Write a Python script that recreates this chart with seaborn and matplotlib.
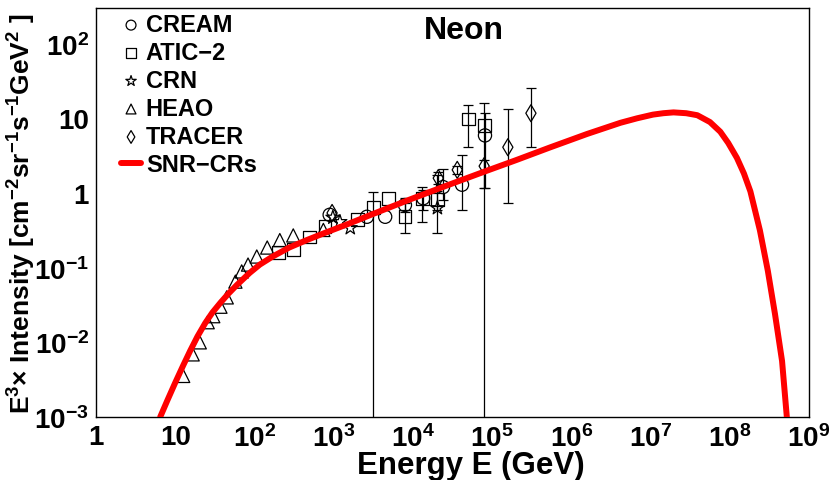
import matplotlib
matplotlib.use('Agg')
import matplotlib.pyplot as plt
from matplotlib.ticker import FixedLocator, LogLocator, NullFormatter
import numpy as np
import seaborn as sns

# SNR-CRs model curve (E in GeV, E^3 x intensity)
snr_energy = [6.46, 7.94, 10, 12.6, 15.5, 19.1, 24.0, 29.5, 37.2, 46.8,
              60.3, 87.1, 117, 170, 275, 457, 794, 1480, 3160, 8510,
              26900, 77600, 2.0e5, 5.37e5, 1.58e6, 4.17e6, 6.76e6, 1.07e7, 1.45e7, 1.95e7,
              2.82e7, 3.89e7, 5.62e7, 7.59e7, 9.55e7, 1.23e8, 1.51e8, 1.82e8, 2.40e8, 3.02e8,
              3.72e8, 4.57e8, 5.25e8]
snr_flux = [1.0e-3, 1.66e-3, 2.88e-3, 4.9e-3, 7.76e-3, 0.0120, 0.0182, 0.0251, 0.0339, 0.0447,
            0.0589, 0.0851, 0.110, 0.141, 0.186, 0.234, 0.295, 0.380, 0.525, 0.794,
            1.26, 1.91, 2.75, 4.07, 6.17, 8.71, 10.0, 11.2, 11.7, 12.0,
            11.7, 11.0, 8.91, 6.61, 4.68, 2.95, 1.82, 1.05, 0.316, 0.0912,
            0.024, 0.00562, 1e-3]

# measurements: energy, value, lower and upper end of error bar
cream_energy = [890, 2630, 4470, 7940, 13500, 24000, 41700, 81300]
cream_flux = [0.51, 0.48, 0.48, 0.69, 0.85, 1.2, 1.29, 5.9]
cream_lo = [0.51, 0.48, 0.48, 0.55, 0.6, 0.8, 0.59, 1.17]
cream_hi = [0.51, 0.48, 0.48, 0.85, 1.1, 2.1, 3.2, 11.7]

atic_energy = [200, 309, 501, 776, 2000, 3160, 4900, 7940, 13200, 20400, 50100, 79400]
atic_flux = [0.158, 0.174, 0.257, 0.355, 0.437, 0.646, 0.85, 0.48, 0.85, 0.82, 9.8, 8.1]
atic_lo = [0.158, 0.174, 0.257, 0.355, 0.437, 1e-4, 0.85, 0.293, 0.41, 0.6, 4.1, 1e-4]
atic_hi = [0.158, 0.174, 0.257, 0.355, 0.437, 1.03, 0.85, 0.736, 1.2, 1.05, 14.9, 15.8]

crn_energy = [977, 1200, 1620, 20400]
crn_flux = [0.47, 0.41, 0.34, 0.63]
crn_lo = [0.47, 0.41, 0.34, 0.29]
crn_hi = [0.47, 0.41, 0.34, 1.74]

heao_energy = [12.6, 16.6, 20.4, 25.7, 30.2, 37.2, 44.7, 57.5, 69, 83, 107, 145, 209, 309, 741]
heao_flux = [3.55e-3, 6.9e-3, 0.010, 0.0186, 0.0224, 0.030, 0.040, 0.065, 0.089, 0.11,
             0.141, 0.186, 0.234, 0.27, 0.32]

tracer_energy = [955, 20900, 36300, 79400, 158000, 309000]
tracer_flux = [0.54, 1.58, 2.04, 2.29, 4.1, 11.7]
tracer_lo = [0.54, 1.3, 1.8, 1.17, 0.74, 4.1]
tracer_hi = [0.54, 1.9, 2.3, 2.75, 13.2, 25.7]

x_ticks = [1, 10, 1e2, 1e3, 1e4, 1e5, 1e6, 1e7, 1e8, 1e9]
x_ticklabels = ['1', '10', '$10^{2}$', '$10^{3}$', '$10^{4}$', '$10^{5}$',
                '$10^{6}$', '$10^{7}$', '$10^{8}$', '$10^{9}$']
y_ticks = [1e-3, 1e-2, 1e-1, 1, 10, 1e2]
y_ticklabels = ['$10^{-3}$', '$10^{-2}$', '$10^{-1}$', '1', '10', '$10^{2}$']

sns.set_theme(style='white')
plt.rcParams['font.family'] = ['Liberation Sans', 'DejaVu Sans']
plt.rcParams['font.weight'] = 'bold'
plt.rcParams['mathtext.fontset'] = 'custom'
plt.rcParams['mathtext.rm'] = 'Liberation Sans:bold'
plt.rcParams['mathtext.bf'] = 'Liberation Sans:bold'
plt.rcParams['mathtext.it'] = 'Liberation Sans:bold'
plt.rcParams['mathtext.default'] = 'rm'
for key in ('text.color', 'axes.labelcolor', 'xtick.color', 'ytick.color', 'axes.edgecolor'):
    plt.rcParams[key] = 'black'

fig = plt.figure(figsize=(8.32, 4.81), dpi=100)
ax = fig.add_axes([96 / 832, 63 / 481, 713 / 832, 409 / 481])
ax.set_xscale('log')
ax.set_yscale('log')

# Error bars first, only where they are visible.
datasets = [(cream_energy, cream_flux, cream_lo, cream_hi),
            (atic_energy, atic_flux, atic_lo, atic_hi),
            (crn_energy, crn_flux, crn_lo, crn_hi),
            (tracer_energy, tracer_flux, tracer_lo, tracer_hi)]
for e, f, lo, hi in datasets:
    e, f, lo, hi = map(np.asarray, (e, f, lo, hi))
    m = (hi > f) | (lo < f)
    ax.errorbar(e[m], f[m], yerr=[f[m] - lo[m], hi[m] - f[m]], fmt='none',
                ecolor='black', elinewidth=0.9, capsize=3.5, capthick=0.9, zorder=2)

marker_kw = dict(facecolor='none', edgecolor='black', linewidth=0.9, zorder=3, ax=ax)
sns.scatterplot(x=cream_energy, y=cream_flux, marker='o', s=90, label='CREAM', **marker_kw)
sns.scatterplot(x=atic_energy, y=atic_flux, marker='s', s=85, label='ATIC\u22122', **marker_kw)
sns.scatterplot(x=crn_energy, y=crn_flux, marker='*', s=110, label='CRN', **marker_kw)
sns.scatterplot(x=heao_energy, y=heao_flux, marker='^', s=90, label='HEAO', **marker_kw)
sns.scatterplot(x=tracer_energy, y=tracer_flux, marker='d', s=75, label='TRACER', **marker_kw)
sns.lineplot(x=snr_energy, y=snr_flux, color='#ff0000', linewidth=4.3, estimator=None,
             label='SNR\u2212CRs', zorder=4, ax=ax)

ax.set_xlim(1, 1e9)
ax.set_ylim(1e-3, 300)
ax.xaxis.set_major_locator(FixedLocator(x_ticks))
ax.set_xticklabels(x_ticklabels)
ax.yaxis.set_major_locator(FixedLocator(y_ticks))
ax.set_yticklabels(y_ticklabels)
for axis in (ax.xaxis, ax.yaxis):
    axis.set_minor_locator(LogLocator(base=10, subs=np.arange(2, 10) * 1.0, numticks=100))
    axis.set_minor_formatter(NullFormatter())
ax.tick_params(which='both', direction='in', top=False, right=False, width=0.8,
               colors='black', labelsize=20)
ax.tick_params(axis='x', which='major', length=8, pad=5)
ax.tick_params(axis='x', which='minor', length=4.5)
ax.tick_params(axis='y', which='major', length=14, pad=5)
ax.tick_params(axis='y', which='minor', length=7)
for sp in ax.spines.values():
    sp.set_color('black')
    sp.set_linewidth(1.0)

ax.set_xlabel('Energy E (GeV)', fontsize=22.5, fontweight='bold')
ax.xaxis.label.set_va('center')
ax.xaxis.set_label_coords(0.526, -0.117)
fig.text(22 / 832, 0.556,
         'E$^{3}$\u00d7 Intensity [cm$^{-2}$sr$^{-1}$s$^{-1}$GeV$^{2}$ ]',
         rotation=90, ha='center', va='center', fontsize=19, fontweight='bold')
ax.text(0.516, 0.946, 'Neon', transform=ax.transAxes, ha='center', va='center',
        fontsize=23, fontweight='bold')

handles, labels = ax.get_legend_handles_labels()
order = ['CREAM', 'ATIC\u22122', 'CRN', 'HEAO', 'TRACER', 'SNR\u2212CRs']
hmap = dict(zip(labels, handles))
ax.legend([hmap[k] for k in order], order, loc='upper left',
          bbox_to_anchor=(25 / 713, 0.987), frameon=False, fontsize=17,
          markerscale=0.75, handlelength=0.85, handletextpad=0.2, labelspacing=0.21,
          borderaxespad=0, borderpad=0)

fig.savefig('out.png', dpi=100)
